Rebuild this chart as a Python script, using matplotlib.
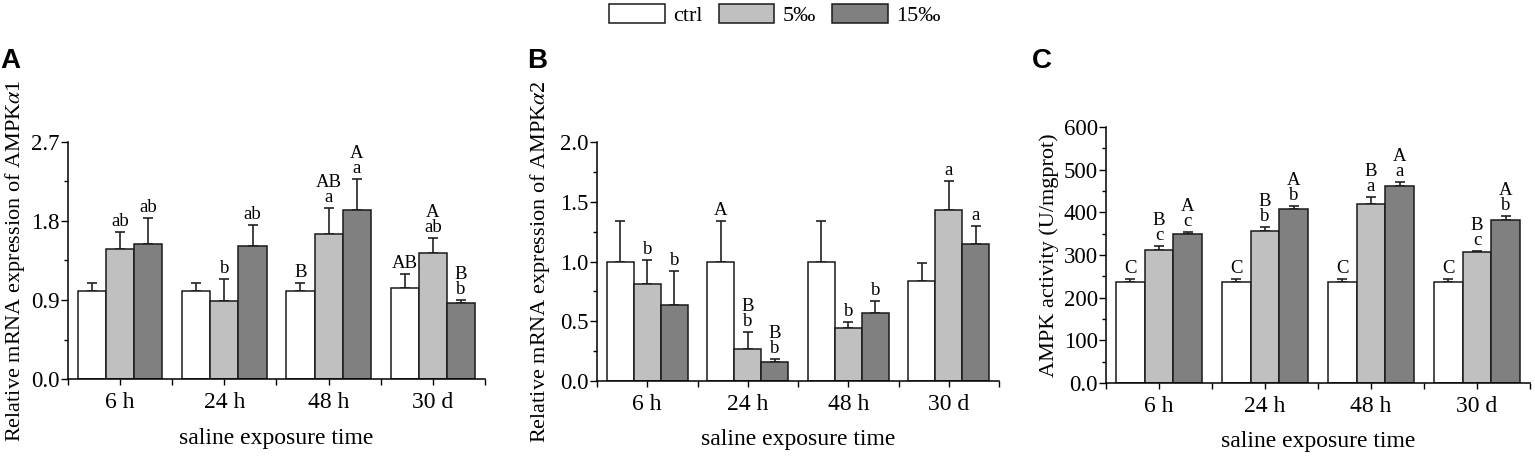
import matplotlib
matplotlib.use("Agg")
import matplotlib.pyplot as plt
import matplotlib.ticker as mticker
import numpy as np

plt.rcParams['font.family'] = ['Liberation Serif', 'DejaVu Serif']
plt.rcParams['mathtext.fontset'] = 'stix'

# data
groups = ['6 h', '24 h', '48 h', '30 d']
series = ['ctrl', '5‰', '15‰']
colors = ['#ffffff', '#c0c0c0', '#808080']

# panel A - AMPKa1
a_mean = [[1.00, 1.00, 1.00, 1.04],
          [1.48, 0.89, 1.65, 1.44],
          [1.54, 1.52, 1.93, 0.87]]
a_err = [[0.09, 0.09, 0.09, 0.16],
         [0.19, 0.25, 0.30, 0.17],
         [0.29, 0.23, 0.35, 0.03]]
a_let = [['', '', 'B', 'AB'],
         ['ab', 'b', 'AB\na', 'A\nab'],
         ['ab', 'ab', 'A\na', 'B\nb']]

# panel B - AMPKa2
b_mean = [[1.00, 1.00, 1.00, 0.84],
          [0.81, 0.27, 0.44, 1.43],
          [0.64, 0.16, 0.57, 1.15]]
b_err = [[0.34, 0.34, 0.34, 0.15],
         [0.20, 0.14, 0.05, 0.24],
         [0.28, 0.02, 0.10, 0.15]]
b_let = [['', 'A', '', ''],
         ['b', 'B\nb', 'b', 'a'],
         ['b', 'B\nb', 'b', 'a']]

# panel C - AMPK activity
c_mean = [[236, 236, 236, 236],
          [311, 356, 419, 307],
          [349, 407, 461, 382]]
c_err = [[8, 8, 8, 8],
         [10, 9, 16, 3],
         [5, 7, 10, 9]]
c_let = [['C', 'C', 'C', 'C'],
         ['B\nc', 'B\nb', 'B\na', 'B\nc'],
         ['A\nc', 'A\nb', 'A\na', 'A\nb']]

W, H = 1535, 459
fig = plt.figure(figsize=(W / 100, H / 100), dpi=100)


def px_axes(x0, x1, ybot, ytop):
    return fig.add_axes([x0 / W, 1 - ybot / H, (x1 - x0) / W, (ybot - ytop) / H])


def draw_panel(ax, mean, err, letters, ymax, major, ylabel, fmt=None):
    x = np.arange(1, len(groups) + 1)
    bw = 0.27
    for i in range(3):
        xs = x + (i - 1) * bw
        ax.bar(xs, mean[i], bw, color=colors[i], edgecolor='#1a1a1a', linewidth=1.1, zorder=2)
        ax.errorbar(xs, mean[i], yerr=[np.zeros(len(x)), err[i]], fmt='none',
                    ecolor='#222222', elinewidth=1.2, capsize=3.5, capthick=1.2, zorder=1)
        for xi, m, e, t in zip(xs, mean[i], err[i], letters[i]):
            if t:
                ax.annotate(t, xy=(xi, m + e), xytext=(0, 1.5), textcoords='offset points',
                            ha='center', va='bottom', fontsize=13.5, linespacing=0.85)
    ax.set_xlim(0.5, len(groups) + 0.5)
    ax.set_ylim(0, ymax)
    ax.set_xticks(x)
    ax.set_xticklabels(groups)
    ax.set_xticks(np.arange(0.5, len(groups) + 1, 1.0), minor=True)
    ax.yaxis.set_major_locator(mticker.MultipleLocator(major))
    ax.yaxis.set_minor_locator(mticker.MultipleLocator(major / 2))
    if fmt:
        ax.yaxis.set_major_formatter(mticker.FuncFormatter(fmt))
    else:
        ax.yaxis.set_major_formatter(mticker.FormatStrFormatter('%.1f'))
    for s in ['top', 'right']:
        ax.spines[s].set_visible(False)
    for s in ['left', 'bottom']:
        ax.spines[s].set_linewidth(1.1)
    ax.tick_params(axis='y', which='major', direction='out', length=5, width=1, labelsize=16.5, pad=1)
    ax.tick_params(axis='y', which='minor', direction='out', length=3, width=1)
    ax.tick_params(axis='x', which='major', direction='out', length=4, width=1, labelsize=17, pad=5)
    ax.tick_params(axis='x', which='minor', direction='out', length=4, width=1)
    ax.set_ylabel(ylabel, fontsize=16)
    ax.set_xlabel('saline exposure time', fontsize=17)


axA = px_axes(68, 485, 379, 142)
draw_panel(axA, a_mean, a_err, a_let, 2.7, 0.9, r'Relative mRNA expression of AMPK$\alpha$1')
axA.yaxis.set_label_coords(-0.098, 0.5)
axA.xaxis.set_label_coords(0.5, -0.205)

axB = px_axes(597, 999, 381, 142)
draw_panel(axB, b_mean, b_err, b_let, 2.0, 0.5, r'Relative mRNA expression of AMPK$\alpha$2')
axB.yaxis.set_label_coords(-0.113, 0.5)
axB.xaxis.set_label_coords(0.5, -0.2)

axC = px_axes(1106, 1530, 383, 127)
draw_panel(axC, c_mean, c_err, c_let, 600, 100, 'AMPK activity (U/mgprot)',
           fmt=lambda v, p: '0.0' if v == 0 else f'{v:.0f}')
axC.yaxis.set_label_coords(-0.111, 0.5)
axC.xaxis.set_label_coords(0.5, -0.187)

# panel letters
for lab, xp in [('A', 0), ('B', 527), ('C', 1032)]:
    fig.text(xp / W, 1 - 68 / H, lab, fontsize=20, fontweight='bold',
             family='Liberation Sans', ha='left', va='baseline')

# legend
handles = [plt.Rectangle((0, 0), 1, 1, facecolor=c, edgecolor='#1a1a1a', linewidth=1.1) for c in colors]
fig.legend(handles, series, loc='upper center', bbox_to_anchor=(775 / W, 1.0), ncol=3,
           frameon=False, fontsize=16, handlelength=2.5, handleheight=0.9,
           handletextpad=0.4, columnspacing=0.7, borderaxespad=0.1, borderpad=0.1)

fig.savefig('out.png', dpi=100)
